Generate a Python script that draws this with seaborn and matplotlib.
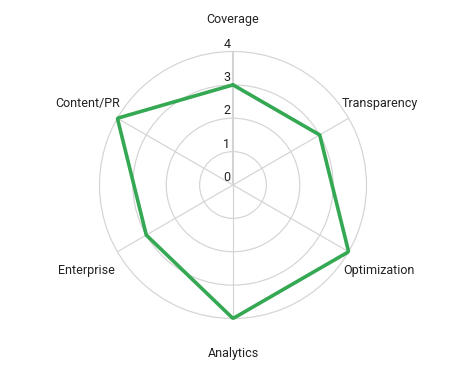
import numpy as np
import pandas as pd
import matplotlib
matplotlib.use("Agg")
import matplotlib.pyplot as plt
import seaborn as sns

categories = ["Coverage", "Transparency", "Optimization", "Analytics", "Enterprise", "Content/PR"]
scores = [3, 3, 4, 4, 3, 4]
tick_values = [0, 1, 2, 3, 4]
line_color = "#34a853"

sns.set_theme(style="white")
plt.rcParams["font.family"] = ["Roboto", "DejaVu Sans"]

n = len(categories)
angles = np.linspace(0, 2 * np.pi, n, endpoint=False)
df = pd.DataFrame({
    "theta": np.append(angles, 2 * np.pi),
    "score": scores + scores[:1],
})

rmax = 4.04
r_px = 133.5 * rmax / 4
cx, cy, W, H = 233, 185, 466, 371
fig = plt.figure(figsize=(4.66, 3.71), dpi=100)
ax = fig.add_axes([(cx - r_px) / W, (H - cy - r_px) / H, 2 * r_px / W, 2 * r_px / H],
                  projection="polar")
ax.set_theta_offset(np.pi / 2)
ax.set_theta_direction(-1)

sns.lineplot(data=df, x="theta", y="score", sort=False, color=line_color,
             linewidth=2.6, ax=ax, legend=False)

ax.set_ylim(0, rmax)
ax.set_yticks(tick_values[1:])
ax.set_yticklabels([])
ax.set_xticks(angles)
ax.set_xticklabels([])
ax.set_xlabel("")
ax.set_ylabel("")
ax.spines["polar"].set_visible(False)
ax.grid(True, color="#d4d4d4", linewidth=0.85)
ax.set_facecolor("white")
for gl in ax.xaxis.get_gridlines():
    gl.set_visible(False)

# spokes from center to outer ring
for ang in angles:
    lw = 1.5 if ang == 0 else 0.85
    ax.plot([ang, ang], [0, 4], color="#d4d4d4", linewidth=lw, zorder=1)

# category labels
offsets = {
    "Coverage": ((0, 31.5), "center"),
    "Transparency": ((-7, 15), "left"),
    "Optimization": ((-5.5, -18.5), "left"),
    "Analytics": ((0, -35), "center"),
    "Enterprise": ((-2.5, -18.5), "right"),
    "Content/PR": ((2.5, 15), "right"),
}
for ang, cat in zip(angles, categories):
    (dx, dy), ha = offsets[cat]
    ax.annotate(cat, xy=(ang, 4), xytext=(dx, dy), textcoords="offset pixels",
                ha=ha, va="center", fontsize=9, color="#222222",
                annotation_clip=False)

# radial tick labels
for v in tick_values:
    ax.annotate(str(v), xy=(0, v), xytext=(-2.5, 7.5), textcoords="offset pixels",
                ha="right", va="center", fontsize=9, color="#222222",
                annotation_clip=False)

fig.savefig("out.png", dpi=100, facecolor="white")
